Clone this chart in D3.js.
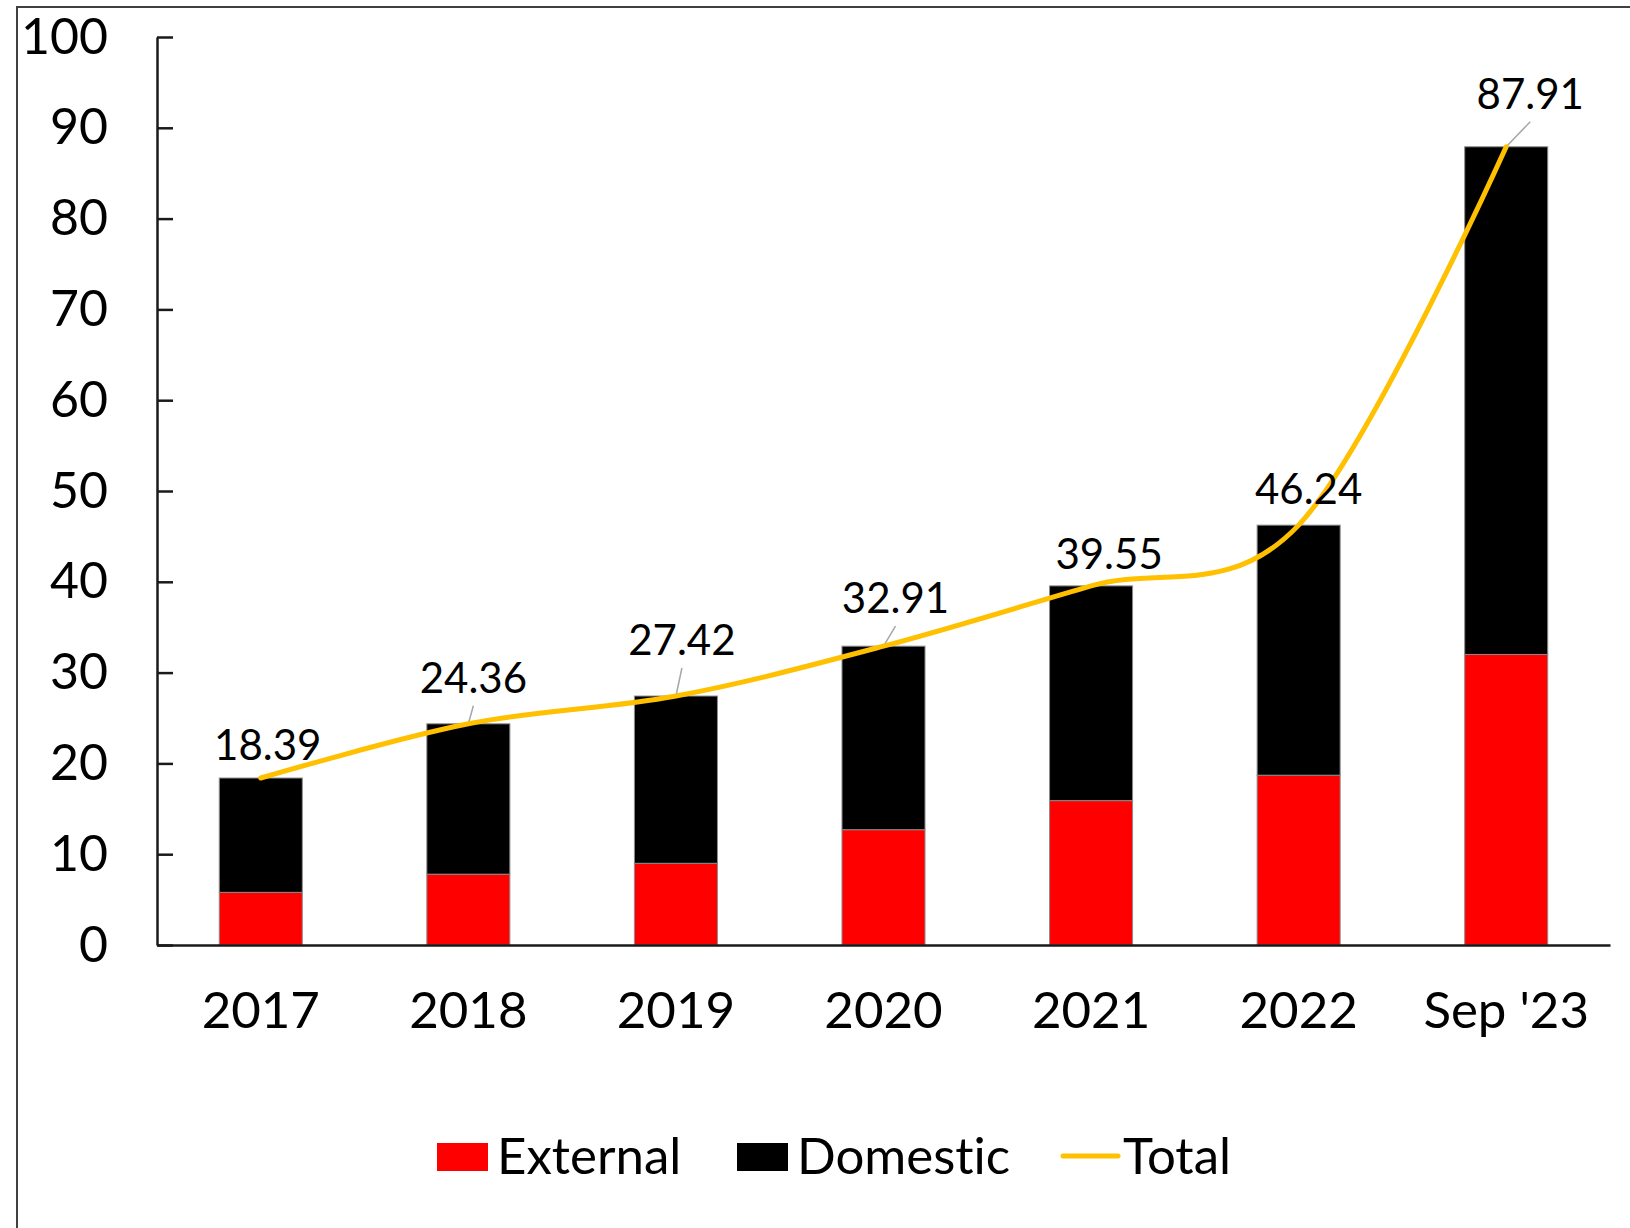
<!DOCTYPE html>
<html>
<head>
<meta charset="utf-8">
<script src="https://cdn.jsdelivr.net/npm/d3@7"></script>
<style>
  html, body { margin: 0; padding: 0; background: #fff; }
  svg { display: block; font-family: Lato, "Noto Sans", sans-serif; font-variant-ligatures: none; }
  text { font-variant-ligatures: none; font-feature-settings: "liga" 0; }
</style>
</head>
<body>
<svg id="chart" width="1630" height="1228"></svg>
<script>
// Debt stock by year, split into external and domestic parts
const categories = ["2017", "2018", "2019", "2020", "2021", "2022", "Sep '23"];
const external   = [5.8, 7.8, 9.0, 12.7, 15.9, 18.7, 32.0];
const domestic   = [12.59, 16.56, 18.42, 20.21, 23.65, 27.54, 55.91];
const total      = [18.39, 24.36, 27.42, 32.91, 39.55, 46.24, 87.91];
const yTicks     = [0, 10, 20, 30, 40, 50, 60, 70, 80, 90, 100];
const seriesNames = ["External", "Domestic", "Total"];

// Label placement relative to each point on the total line (px)
const labelShift = [[7, -18], [5, -31], [6, -41], [12, -33], [18, -17], [10, -21], [24, -38]];
const withLeader = [false, true, true, true, false, false, true];

const colors = { External: "#FF0000", Domestic: "#000000", Total: "#FFC000" };

const svg = d3.select("#chart");

// Outer frame
svg.append("rect")
  .attr("x", 17).attr("y", 7)
  .attr("width", 1700).attr("height", 1400)
  .attr("fill", "none").attr("stroke", "#404040").attr("stroke-width", 2);

const x = d3.scaleBand()
  .domain(categories)
  .range([157, 1610])
  .paddingInner(0.6)
  .paddingOuter(0.3);

const y = d3.scaleLinear().domain([0, 100]).range([945, 37]);

// Stacked bars
const rows = categories.map((c, i) => ({ cat: c, External: external[i], Domestic: domestic[i] }));
const stacked = d3.stack().keys(["External", "Domestic"])(rows);

svg.append("g").selectAll("g")
  .data(stacked)
  .join("g")
  .attr("fill", d => colors[d.key])
  .selectAll("rect")
  .data(d => d)
  .join("rect")
  .attr("x", d => x(d.data.cat))
  .attr("width", x.bandwidth())
  .attr("y", d => y(d[1]))
  .attr("height", d => y(d[0]) - y(d[1]))
  .attr("stroke", "#8c8c8c")
  .attr("stroke-width", 1);

// Y axis: ticks point into the plot, labels to the left
const yAxis = svg.append("g")
  .attr("transform", "translate(157,0)")
  .call(d3.axisLeft(y).tickValues(yTicks).tickSizeInner(-16).tickSizeOuter(0).tickPadding(49));
yAxis.select(".domain").attr("stroke", "#1a1a1a").attr("stroke-width", 2.5);
yAxis.selectAll(".tick line").attr("stroke", "#1a1a1a").attr("stroke-width", 2.5);
yAxis.selectAll(".tick text")
  .attr("font-size", 50).attr("fill", "#000")
  .attr("font-family", "Lato, 'Noto Sans', sans-serif");

// X axis
const xAxis = svg.append("g")
  .attr("transform", "translate(0,945)")
  .call(d3.axisBottom(x).tickSize(0).tickPadding(47));
xAxis.select(".domain").attr("stroke", "#1a1a1a").attr("stroke-width", 2.5);
xAxis.selectAll(".tick text")
  .attr("font-size", 51).attr("fill", "#000")
  .attr("font-family", "Lato, 'Noto Sans', sans-serif");

// Total line (smoothed)
const cx = c => x(c) + x.bandwidth() / 2;
const line = d3.line()
  .x((d, i) => cx(categories[i]))
  .y(d => y(d))
  .curve(d3.curveCardinal.tension(0));

// Leader lines from the point up to its label
const labelG = svg.append("g");
total.forEach((v, i) => {
  const px = cx(categories[i]), py = y(v);
  const lx = px + labelShift[i][0], ly = py + labelShift[i][1];
  if (withLeader[i]) {
    labelG.append("line")
      .attr("x1", px).attr("y1", py)
      .attr("x2", lx).attr("y2", ly + 13)
      .attr("stroke", "#a6a6a6").attr("stroke-width", 1.5);
  }
});

svg.append("path")
  .datum(total)
  .attr("d", line)
  .attr("fill", "none")
  .attr("stroke", colors.Total)
  .attr("stroke-width", 5)
  .attr("stroke-linecap", "round");

// Value labels for the total
svg.append("g").selectAll("text")
  .data(total)
  .join("text")
  .attr("x", (d, i) => cx(categories[i]) + labelShift[i][0])
  .attr("y", (d, i) => y(d) + labelShift[i][1])
  .attr("text-anchor", "middle")
  .attr("font-size", 42)
  .attr("fill", "#000")
  .text(d => d.toFixed(2));

// Legend
const legend = svg.append("g");
const legendX = [437, 737, 1063];
seriesNames.forEach((name, i) => {
  const g = legend.append("g").attr("transform", `translate(${legendX[i]},0)`);
  if (name === "Total") {
    g.append("line")
      .attr("x1", 0).attr("x2", 55).attr("y1", 1156).attr("y2", 1156)
      .attr("stroke", colors.Total).attr("stroke-width", 5).attr("stroke-linecap", "round");
  } else {
    g.append("rect")
      .attr("x", 0).attr("y", 1143).attr("width", 51).attr("height", 28)
      .attr("fill", colors[name]);
  }
  g.append("text").attr("x", 60).attr("y", 1174)
    .attr("font-size", 51).attr("fill", "#000").text(name);
});
</script>
</body>
</html>
